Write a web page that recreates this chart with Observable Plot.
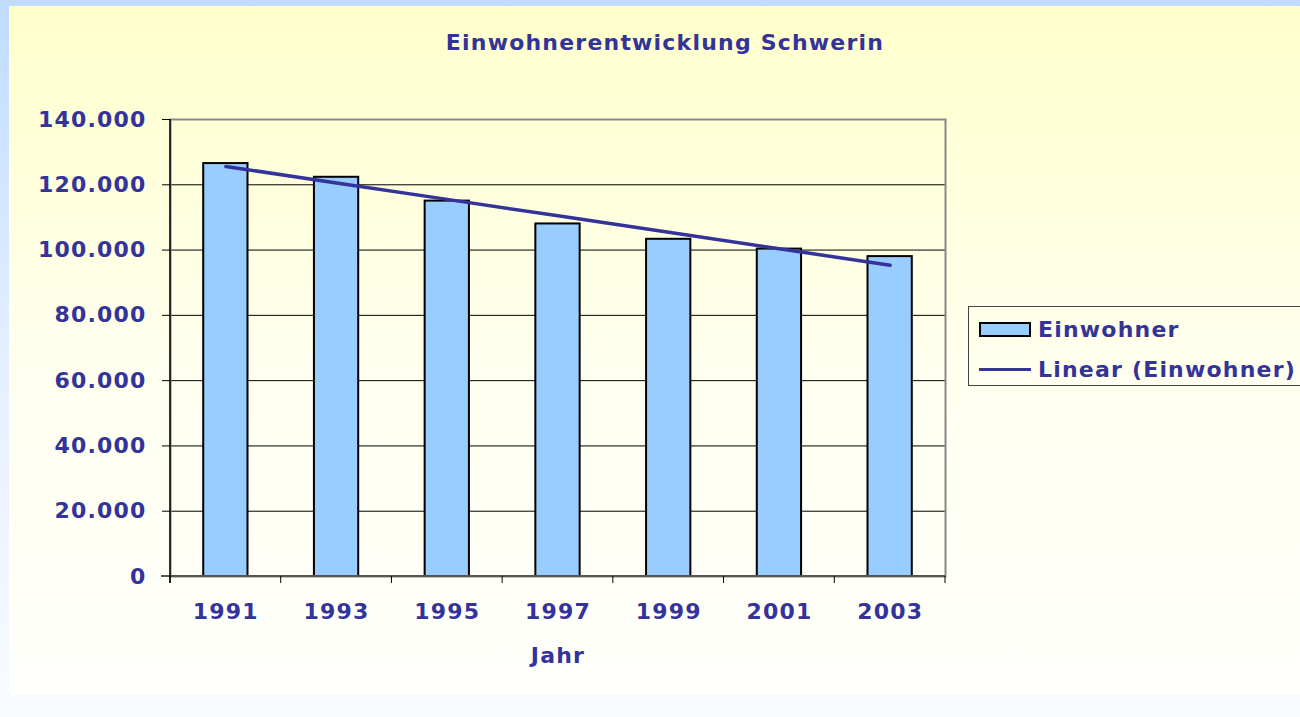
<!DOCTYPE html>
<html>
<head>
<meta charset="utf-8">
<script src="https://cdn.jsdelivr.net/npm/d3@7"></script>
<script src="https://cdn.jsdelivr.net/npm/@observablehq/plot@0.6"></script>
<style>
  html, body { margin: 0; padding: 0; width: 1300px; height: 717px; overflow: hidden; }
  body { background: linear-gradient(to bottom, #bfdcff 0%, #e4efff 50%, #f9fbff 100%); position: relative; font-family: "DejaVu Sans", sans-serif; }
  #panel { position: absolute; left: 9px; top: 6px; width: 1291px; height: 689px;
           background: linear-gradient(to bottom, #ffffcc 0%, #fffff0 55%, #fffffc 100%); }
  #chart { position: absolute; left: 0; top: 0; }
  .txt { position: absolute; color: #333399; font-weight: bold; font-size: 22px; letter-spacing: 1.2px; white-space: nowrap; }
  #title { left: 0; width: 1330px; top: 30px; text-align: center; }
  #legend { position: absolute; left: 968px; top: 306px; width: 345px; height: 80px; border: 1px solid #444; box-sizing: border-box; }
  .lg-row { position: absolute; left: 10px; height: 26px; display: flex; align-items: center; }
  .sw-bar { width: 52px; height: 15px; background: #99ccff; border: 2px solid #000; box-sizing: border-box; margin-right: 7px; }
  .sw-line { width: 52px; height: 3px; background: #333399; margin-right: 7px; }
</style>
</head>
<body>
<div id="panel"></div>
<div id="chart"></div>
<div id="title" class="txt">Einwohnerentwicklung Schwerin</div>
<div id="legend">
  <div class="lg-row txt" style="top:9px;"><div class="sw-bar"></div>Einwohner</div>
  <div class="lg-row txt" style="top:49px;"><div class="sw-line"></div>Linear (Einwohner)</div>
</div>
<script>
const years = ["1991", "1993", "1995", "1997", "1999", "2001", "2003"];
const population = [126500, 122300, 115000, 108000, 103300, 100300, 98000];
const yTicks = [0, 20000, 40000, 60000, 80000, 100000, 120000, 140000];

const data = years.map((year, i) => ({year, pop: population[i]}));

// Linear trend (least squares over category index), like Excel's "Linear" trendline
const n = population.length;
const mx = (n - 1) / 2;
const my = d3.mean(population);
let sxy = 0, sxx = 0;
population.forEach((v, i) => { sxy += (i - mx) * (v - my); sxx += (i - mx) * (i - mx); });
const slope = sxy / sxx;
const intercept = my - slope * mx;
const trend = years.map((year, i) => ({year, pop: intercept + slope * i}));

const fmt = d3.formatLocale({decimal: ",", thousands: ".", grouping: [3], currency: ["", " €"]}).format(",d");

const chart = Plot.plot({
  width: 1300,
  height: 717,
  marginLeft: 170,
  marginRight: 355,
  marginTop: 119,
  marginBottom: 141,
  style: "background: transparent; font-family: 'DejaVu Sans', sans-serif; font-size: 22px; font-weight: bold; letter-spacing: 1.2px; color: #333399; overflow: visible;",
  x: {type: "band", domain: years, paddingInner: 0.6, paddingOuter: 0.3, align: 0.5, round: false, label: null},
  y: {domain: [0, 140000], label: null},
  marks: [
    Plot.gridY(yTicks.filter(v => v > 0 && v < 140000), {stroke: "#000", strokeOpacity: 1, strokeWidth: 1}),
    Plot.frame({stroke: "#888", strokeWidth: 2}),
    Plot.barY(data, {x: "year", y: "pop", fill: "#99ccff", stroke: "#000", strokeWidth: 2}),
    Plot.line(trend, {x: "year", y: "pop", stroke: "#333399", strokeWidth: 3.5, strokeLinecap: "round"}),
    Plot.axisY({ticks: yTicks, tickFormat: fmt, tickSize: 8, tickPadding: 16, stroke: "#000", fill: "#333399", label: null}),
    Plot.axisX({tickSize: 0, tickPadding: 27, fill: "#333399", label: "Jahr", labelAnchor: "center", labelOffset: 86})
  ]
});
document.getElementById("chart").appendChild(chart);

// Axis lines and category-boundary ticks drawn from the Plot scales
const xs = chart.scale("x");
const ys = chart.scale("y");
const svg = d3.select(chart);
const y0 = ys.apply(0);
const yTop = ys.apply(140000);
const [xL, xR] = xs.range;
const g = svg.append("g");
g.append("line").attr("x1", xL - 9).attr("x2", xR).attr("y1", y0).attr("y2", y0)
  .attr("stroke", "#555").attr("stroke-width", 2);
g.append("line").attr("x1", xL).attr("x2", xL).attr("y1", yTop).attr("y2", y0 + 7)
  .attr("stroke", "#000").attr("stroke-width", 1.5);
const gap = (xs.step - xs.bandwidth) / 2;
const bounds = years.map(y => xs.apply(y) - gap).concat([xs.apply(years[years.length - 1]) + xs.bandwidth + gap]);
bounds.forEach(bx => {
  g.append("line").attr("x1", bx).attr("x2", bx).attr("y1", y0).attr("y2", y0 + 7)
    .attr("stroke", "#000").attr("stroke-width", 1);
});
</script>
</body>
</html>
